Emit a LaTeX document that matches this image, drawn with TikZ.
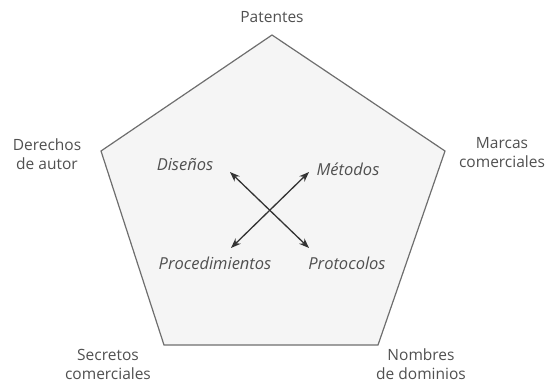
\documentclass[tikz,border=0pt]{standalone}
\usepackage{fontspec}
\setmainfont{Open Sans}
\usetikzlibrary{arrows.meta}
\definecolor{labelgray}{HTML}{505050}
\definecolor{edgegray}{HTML}{6E6E6E}
\definecolor{facegray}{HTML}{F5F5F5}
\definecolor{arrowgray}{HTML}{333333}
\tikzset{
  px/.style={x=1pt,y=-1pt},
  outer/.style={align=center,text=labelgray,font=\fontsize{15.5}{19}\selectfont,inner sep=0pt},
  inner/.style={text=labelgray,font=\fontsize{16.5}{19}\selectfont\itshape,inner sep=0pt},
  face/.style={draw=edgegray,fill=facegray,line width=1.2pt,line join=miter},
  link/.style={draw=arrowgray,line width=1.3pt,
    {Stealth[length=10pt,width=7.5pt]}-{Stealth[length=10pt,width=7.5pt]}},
}
\begin{document}
\begin{tikzpicture}[px]
\useasboundingbox (0,0) rectangle (548,383);
% corners of the pentagon
\coordinate (vt) at (272,35);
\coordinate (vr) at (445,151);
\coordinate (vbr) at (378,345);
\coordinate (vbl) at (164,345);
\coordinate (vl) at (101,151);
\path[face] (vt) -- (vr) -- (vbr) -- (vbl) -- (vl) -- cycle;
% labels at the corners
\node[outer] (patentes) at (272,17) {Patentes};
\node[outer] (derechos) at (47,154) {Derechos\\de autor};
\node[outer] (marcas) at (502,153) {Marcas\\comerciales};
\node[outer] (secretos) at (108,364) {Secretos\\comerciales};
\node[outer] (nombres) at (421,364) {Nombres\\de dominios};
% labels inside
\node[inner] (disenos) at (185,165) {Diseños};
\node[inner] (metodos) at (348,169) {Métodos};
\node[inner] (proced) at (215,263) {Procedimientos};
\node[inner] (protoc) at (347,263) {Protocolos};
% crossing double arrows
\coordinate (ul) at (230,172);
\coordinate (lr) at (309,248);
\coordinate (ur) at (309,172);
\coordinate (ll) at (231,248);
\draw[link] (ul) -- (lr);
\draw[link] (ur) -- (ll);
\end{tikzpicture}
\end{document}
